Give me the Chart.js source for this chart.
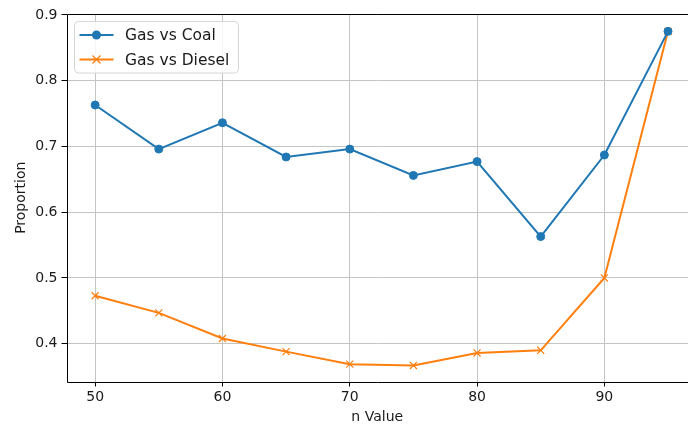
<!DOCTYPE html>
<html>
<head>
<meta charset="utf-8">
<script src="https://cdn.jsdelivr.net/npm/chart.js@4.4.1/dist/chart.umd.min.js"></script>
<style>
  html, body { margin: 0; padding: 0; background: #fff; overflow: hidden; }
  #wrap { width: 688px; height: 429px; position: relative; }
</style>
</head>
<body>
<div id="wrap"><canvas id="chart" width="688" height="429"></canvas></div>
<script>
// n values on the x axis
const nValues = [50, 55, 60, 65, 70, 75, 80, 85, 90, 95];
// proportion series
const gasVsCoal   = [0.763, 0.696, 0.736, 0.684, 0.696, 0.656, 0.677, 0.563, 0.687, 0.875];
const gasVsDiesel = [0.473, 0.447, 0.408, 0.388, 0.369, 0.367, 0.386, 0.390, 0.500, 0.875];
// axis tick labels
const xTicks = [50, 60, 70, 80, 90];
const yTicks = [0.4, 0.5, 0.6, 0.7, 0.8, 0.9];
const seriesNames = ['Gas vs Coal', 'Gas vs Diesel'];

const BLUE = '#1f77b4';
const ORANGE = '#ff7f0e';
const FONT = 'DejaVu Sans';

const toPoints = (ys) => nValues.map((x, i) => ({ x: x, y: ys[i] }));

// spines: left, top and bottom of the plotting area (the right edge runs off the canvas)
const framePlugin = {
  id: 'frame',
  afterDatasetsDraw(chart) {
    const { ctx, chartArea: a } = chart;
    const l = Math.round(a.left) + 0.5, t = Math.round(a.top) + 0.5, b = Math.round(a.bottom) + 0.5;
    ctx.save();
    ctx.strokeStyle = '#000';
    ctx.lineWidth = 1;
    ctx.beginPath();
    ctx.moveTo(chart.width, t); ctx.lineTo(l, t); ctx.lineTo(l, b); ctx.lineTo(chart.width, b);
    ctx.stroke();
    ctx.restore();
  }
};

// boxed legend with line + marker samples
const legendPlugin = {
  id: 'boxLegend',
  afterDraw(chart) {
    const { ctx } = chart;
    const x0 = 74.5, y0 = 21.5, w = 164, h = 51.5, r = 4;
    ctx.save();
    ctx.beginPath();
    ctx.moveTo(x0 + r, y0);
    ctx.arcTo(x0 + w, y0, x0 + w, y0 + h, r);
    ctx.arcTo(x0 + w, y0 + h, x0, y0 + h, r);
    ctx.arcTo(x0, y0 + h, x0, y0, r);
    ctx.arcTo(x0, y0, x0 + w, y0, r);
    ctx.closePath();
    ctx.fillStyle = 'rgba(255,255,255,0.85)';
    ctx.fill();
    ctx.strokeStyle = '#d6d6d6';
    ctx.lineWidth = 1;
    ctx.stroke();

    chart.data.datasets.forEach((ds, i) => {
      const cy = 35 + i * 24.5;
      ctx.strokeStyle = ds.borderColor;
      ctx.lineWidth = 2;
      ctx.beginPath();
      ctx.moveTo(79.5, cy);
      ctx.lineTo(113.5, cy);
      ctx.stroke();
      const mx = 96.5;
      if (ds.pointStyle === 'circle') {
        ctx.fillStyle = ds.borderColor;
        ctx.beginPath();
        ctx.arc(mx, cy, 4.5, 0, Math.PI * 2);
        ctx.fill();
      } else {
        ctx.lineWidth = 1.2;
        ctx.beginPath();
        ctx.moveTo(mx - 4, cy - 4); ctx.lineTo(mx + 4, cy + 4);
        ctx.moveTo(mx - 4, cy + 4); ctx.lineTo(mx + 4, cy - 4);
        ctx.stroke();
      }
      ctx.fillStyle = '#1a1a1a';
      ctx.font = '15.5px "' + FONT + '"';
      ctx.textBaseline = 'middle';
      ctx.textAlign = 'left';
      ctx.fillText(ds.label, 125, cy + 1);
    });
    ctx.restore();
  }
};

new Chart(document.getElementById('chart'), {
  type: 'line',
  data: {
    datasets: [
      {
        label: seriesNames[0],
        data: toPoints(gasVsCoal),
        borderColor: BLUE,
        backgroundColor: BLUE,
        borderWidth: 2,
        pointStyle: 'circle',
        pointRadius: 4,
        pointBorderWidth: 1,
        pointBackgroundColor: BLUE,
        pointBorderColor: BLUE,
        tension: 0,
        fill: false
      },
      {
        label: seriesNames[1],
        data: toPoints(gasVsDiesel),
        borderColor: ORANGE,
        backgroundColor: ORANGE,
        borderWidth: 2,
        pointStyle: 'crossRot',
        pointRadius: 5,
        pointBorderWidth: 1.2,
        pointBorderColor: ORANGE,
        tension: 0,
        fill: false
      }
    ]
  },
  options: {
    responsive: false,
    animation: false,
    events: [],
    layout: { autoPadding: false, padding: { left: 0, top: 14, right: 0, bottom: 0 } },
    plugins: { legend: { display: false }, tooltip: { enabled: false } },
    scales: {
      x: {
        type: 'linear',
        min: 47.75,
        max: 96.57,
        afterBuildTicks: (s) => { s.ticks = xTicks.map(v => ({ value: v })); },
        afterFit: (s) => { s.height = 47.5; s.paddingLeft = 0; s.paddingRight = 0; },
        border: { display: false },
        grid: { color: '#c4c4c4', lineWidth: 1, tickColor: '#000', tickLength: 5, drawTicks: true },
        ticks: { color: '#1a1a1a', font: { family: FONT, size: 14 }, padding: 2, maxRotation: 0,
                 callback: (v) => String(v) },
        title: { display: true, text: 'n Value', color: '#1a1a1a',
                 font: { family: FONT, size: 14 }, padding: { top: 0, bottom: 3 } }
      },
      y: {
        type: 'linear',
        min: 0.3426,
        max: 0.9014,
        afterBuildTicks: (s) => { s.ticks = yTicks.map(v => ({ value: v })); },
        afterFit: (s) => { s.width = 66.5; s.paddingTop = 0; s.paddingBottom = 0; },
        border: { display: false },
        grid: { color: '#c4c4c4', lineWidth: 1, tickColor: '#000', tickLength: 5, drawTicks: true },
        ticks: { color: '#1a1a1a', font: { family: FONT, size: 14 }, padding: 4,
                 callback: (v) => v.toFixed(1) },
        title: { display: true, text: 'Proportion', color: '#1a1a1a',
                 font: { family: FONT, size: 14 }, padding: { top: 12.5, bottom: 0 } }
      }
    }
  },
  plugins: [framePlugin, legendPlugin]
});
</script>
</body>
</html>
